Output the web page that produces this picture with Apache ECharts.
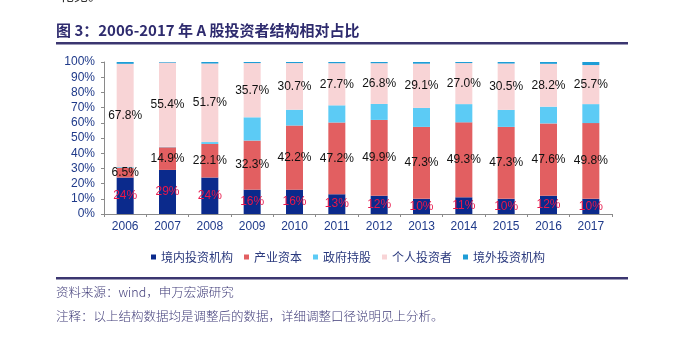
<!DOCTYPE html>
<html>
<head>
<meta charset="utf-8">
<script src="https://cdn.jsdelivr.net/npm/echarts@6/dist/echarts.min.js"></script>
<style>html,body{margin:0;padding:0;background:#fff;}#c{width:680px;height:345px;}</style>
</head>
<body>
<div id="c"></div>
<script>
var years = ['2006','2007','2008','2009','2010','2011','2012','2013','2014','2015','2016','2017'];
var domestic   = [24, 29, 24, 16, 16, 13, 12, 10, 11, 10, 12, 10];
var industrial = [6.5, 14.9, 22.1, 32.3, 42.2, 47.2, 49.9, 47.3, 49.3, 47.3, 47.6, 49.8];
var government = [0.5, 0.3, 1.2, 15.3, 10.4, 11.3, 10.5, 12.5, 12.0, 11.2, 11.0, 12.5];
var individual = [67.8, 55.4, 51.7, 35.7, 30.7, 27.7, 26.8, 29.1, 27.0, 30.5, 28.2, 25.7];
var foreign    = [1.2, 0.4, 1.0, 0.7, 0.7, 0.8, 0.8, 1.1, 0.7, 1.0, 1.2, 2.0];
var seriesNames = ['境内投资机构','产业资本','政府持股','个人投资者','境外投资机构'];
var yTicks = [0,10,20,30,40,50,60,70,80,90,100];
var titleText = '图 3：2006-2017 年 A 股投资者结构相对占比';
var sourceText = '资料来源：wind，申万宏源研究';
var noteText = '注释：以上结构数据均是调整后的数据，详细调整口径说明见上分析。';

var colors = ['#0B2A8C','#E25F61','#5CCBF5','#F8D4D6','#1E9DD6'];
var labelFont = 'Liberation Sans';

var chart = echarts.init(document.getElementById('c'), null, {renderer:'canvas'});
function mk(name, data, color, label) {
  return {
    name: name, type: 'bar', stack: 'all', data: data, barWidth: 17,
    itemStyle: {color: color},
    label: label || {show: false},
    emphasis: {disabled: true}
  };
}
chart.setOption({
  animation: false,
  grid: {left: 104, right: 68, top: 62, bottom: 131},
  legend: {
    left: 146, top: 246,
    itemWidth: 5, itemHeight: 5, itemGap: 11,
    icon: 'rect',
    textStyle: {fontSize: 12, color: '#2B3A7E', fontFamily: 'Noto Sans CJK SC'},
    data: seriesNames
  },
  xAxis: {
    type: 'category', data: years,
    axisLine: {lineStyle: {color: '#8A8A8A'}},
    axisTick: {show: true, length: 3, lineStyle: {color: '#8A8A8A'}},
    axisLabel: {color: '#1F3A8A', fontSize: 12, fontFamily: labelFont, margin: 7}
  },
  yAxis: {
    type: 'value', min: 0, max: 100, interval: 10,
    splitLine: {show: false},
    axisLine: {show: true, lineStyle: {color: '#8A8A8A'}},
    axisTick: {show: true, length: 3, lineStyle: {color: '#8A8A8A'}},
    axisLabel: {color: '#1F3A8A', fontSize: 12, fontFamily: labelFont, margin: 9,
      formatter: function (v) { return yTicks.indexOf(v) >= 0 ? v + '%' : ''; }}
  },
  series: [
    mk(seriesNames[0], domestic, colors[0], {show: true, position: 'inside', color: '#E8174A',
      fontSize: 12, fontFamily: labelFont, formatter: function (p) { return Math.round(p.value) + '%'; }}),
    mk(seriesNames[1], industrial, colors[1], {show: true, position: 'inside', color: '#111',
      fontSize: 12, fontFamily: labelFont, formatter: function (p) { return p.value.toFixed(1) + '%'; }}),
    mk(seriesNames[2], government, colors[2]),
    mk(seriesNames[3], individual, colors[3], {show: true, position: 'inside', color: '#111',
      fontSize: 12, fontFamily: labelFont, formatter: function (p) { return p.value.toFixed(1) + '%'; }}),
    mk(seriesNames[4], foreign, colors[4])
  ],
  graphic: [
    {type: 'text', left: 60, top: -12, style: {text: '化见。', fontSize: 14, fill: '#333', fontFamily: 'Noto Sans CJK SC'}},
    {type: 'text', left: 56, top: 23, style: {text: titleText, fontSize: 15, fontWeight: 'bold', fill: '#2E2B6E', fontFamily: 'Noto Sans CJK SC'}},
    {type: 'rect', shape: {x: 56, y: 42, width: 572, height: 2.5}, style: {fill: '#3B3670'}},
    {type: 'rect', shape: {x: 56, y: 277, width: 572, height: 2.5}, style: {fill: '#3B3670'}},
    {type: 'text', left: 56, top: 286, style: {text: sourceText, fontSize: 12.5, fontWeight: 300, fill: '#3F3B78', fontFamily: 'Noto Sans CJK SC'}},
    {type: 'text', left: 56, top: 310, style: {text: noteText, fontSize: 12.5, fontWeight: 300, fill: '#3F3B78', fontFamily: 'Noto Sans CJK SC'}}
  ]
});
</script>
</body>
</html>
